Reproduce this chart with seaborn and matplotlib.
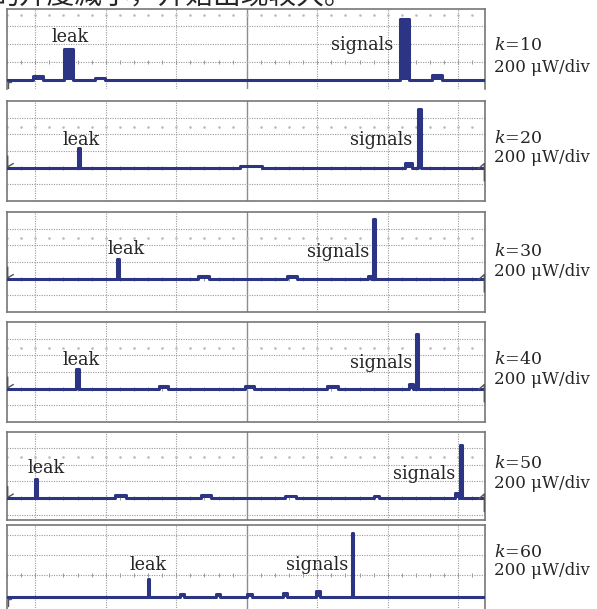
import numpy as np
import pandas as pd
import matplotlib
matplotlib.use("Agg")
import matplotlib.pyplot as plt
import seaborn as sns

sns.set_style("white")
plt.rcParams["font.family"] = ["DejaVu Serif"]
plt.rcParams["mathtext.fontset"] = "dejavuserif"

# ---------------- data (x in divisions from screen centre, heights in divisions) -------------
k_values = [10, 20, 30, 40, 50, 60]
scale_label = "200 μW/div"
caption_text = "的开度减小，开始出现较大。"

p1_centers = [-2.96, -2.53, -2.08, 2.24, 2.70]
p1_widths = [0.13, 0.13, 0.13, 0.12, 0.13]
p1_heights = [0.20, 1.70, 0.12, 3.40, 0.28]

p2_centers = [-2.38, 0.06, 2.30, 2.45]
p2_widths = [0.03, 0.30, 0.10, 0.04]
p2_heights = [1.20, 0.08, 0.30, 3.50]

p3_centers = [-1.82, -0.61, 0.64, 1.74, 1.80]
p3_widths = [0.03, 0.15, 0.15, 0.05, 0.03]
p3_heights = [1.20, 0.15, 0.15, 0.15, 3.60]

p4_centers = [-2.40, -1.18, 0.04, 1.22, 2.33, 2.41]
p4_widths = [0.03, 0.12, 0.12, 0.15, 0.05, 0.03]
p4_heights = [1.20, 0.15, 0.15, 0.15, 0.30, 3.30]

p5_centers = [-2.99, -1.79, -0.58, 0.62, 1.84, 2.98, 3.04]
p5_widths = [0.03, 0.15, 0.15, 0.15, 0.08, 0.05, 0.03]
p5_heights = [1.15, 0.20, 0.20, 0.15, 0.15, 0.30, 3.20]

p6_centers = [-1.39, -0.92, -0.41, 0.04, 0.54, 1.01, 1.50]
p6_widths = [0.02, 0.06, 0.06, 0.06, 0.06, 0.06, 0.02]
p6_heights = [0.90, 0.15, 0.15, 0.15, 0.20, 0.30, 3.20]

panels = [
    (p1_centers, p1_widths, p1_heights),
    (p2_centers, p2_widths, p2_heights),
    (p3_centers, p3_widths, p3_heights),
    (p4_centers, p4_widths, p4_heights),
    (p5_centers, p5_widths, p5_heights),
    (p6_centers, p6_widths, p6_heights),
]

# ---------------- layout (pixels) ----------------
W, H = 597, 609
X_LEFT, X_RIGHT = 7, 485
XMIN, XMAX = -3.40, 3.38
# (top px, bottom px, ymin, ymax, dotted levels, tick-row level, dot-row level)
layout = [
    (9, 89, -0.50, 3.95, [1, 2, 3], 1, 3.6),
    (101, 201, -2.0, 4.0, [-1, 1, 2, 3], 0, 2.45),
    (212, 312, -2.0, 4.0, [-1, 1, 2, 3], 0, 2.45),
    (322, 422, -2.0, 4.0, [-1, 1, 2, 3], 0, 2.45),
    (432, 520, -1.30, 3.95, [-1, 1, 2, 3], 0, 2.45),
    (525, 612, -0.75, 3.6, [1.1, 2.1, 3.1], 1.1, None),
]
# label positions: leak (cx, baseline), signals (cx, baseline), k baseline, scale baseline
labels = [
    ((70, 42), (362, 50), 50, 72),
    ((81, 145), (381, 145), 143, 162),
    ((126, 254), (338, 257), 256, 276),
    ((81, 365), (381, 368), 364, 384),
    ((46, 473), (424, 479), 468, 488),
    ((148, 570), (317, 570), 557, 575),
]

TRACE = "#2b3584"
GRID = "#9a9a9a"
FRAME = "#777777"

fig = plt.figure(figsize=(W / 100, H / 100), dpi=100)


def build_trace(centers, widths, heights):
    xs, ys = [XMIN], [0.0]
    for c, w, h in sorted(zip(centers, widths, heights)):
        a, b = c - w / 2, c + w / 2
        xs += [a, a, b, b]
        ys += [0.0, h, h, 0.0]
    xs.append(XMAX)
    ys.append(0.0)
    return pd.DataFrame({"x": xs, "y": ys})


def px(x, y):
    return x / W, 1 - y / H


for i, ((top, bot, ymin, ymax, dlev, tlev, dotlev), (c, w, h)) in enumerate(zip(layout, panels)):
    ax = fig.add_axes([X_LEFT / W, 1 - bot / H, (X_RIGHT - X_LEFT) / W, (bot - top) / H])
    ax.set_xlim(XMIN, XMAX)
    ax.set_ylim(ymin, ymax)
    ax.set_xticks([])
    ax.set_yticks([])
    for s in ax.spines.values():
        s.set_color(FRAME)
        s.set_linewidth(1.2)
    if i == 0:
        ax.spines["bottom"].set_visible(False)
    # graticule
    for xv in range(-3, 4):
        if xv == 0:
            ax.axvline(xv, color="#8c8c8c", lw=1.0, zorder=1)
        else:
            ax.axvline(xv, color=GRID, lw=0.8, ls=(0, (1, 1.2)), zorder=1)
    for yv in dlev:
        ax.axhline(yv, color=GRID, lw=0.8, ls=(0, (1, 1.2)), zorder=1)
    tx = np.arange(-17, 17) * 0.2
    ax.plot(tx, np.full(tx.shape, tlev), ls="none", marker="|", ms=3.5, mew=0.7,
            color="#999999", zorder=1)
    if dotlev is not None:
        ax.plot(tx, np.full(tx.shape, dotlev), ls="none", marker="s", ms=0.8,
                color="#bbbbbb", zorder=1)
    # trace
    df = build_trace(c, w, h)
    ax.fill_between(df["x"], 0, df["y"], color=TRACE, lw=0, zorder=3)
    sns.lineplot(data=df, x="x", y="y", estimator=None, sort=False, ax=ax,
                 color=TRACE, lw=2.2, zorder=3)
    ax.set_xlabel("")
    ax.set_ylabel("")
    # trigger / level markers at the screen edges
    if 1 <= i <= 4:
        ax.plot([XMIN + 0.01, XMIN + 0.01, XMIN + 0.09], [0.7, 0.05, 0.25],
                color="#555555", lw=1.0, clip_on=False, zorder=4)
        ax.plot([XMAX - 0.09, XMAX - 0.01, XMAX - 0.01], [-0.05, 0.25, -0.8],
                color="#555555", lw=1.0, clip_on=False, zorder=4)
    else:
        ax.plot([XMIN + 0.01, XMIN + 0.01, XMIN + 0.06], [-0.45, -0.1, -0.1],
                color="#555555", lw=1.0, clip_on=False, zorder=4)

    (lx, lb), (sx, sb), kb, scb = labels[i]
    fig.text(*px(lx, lb), "leak", ha="center", va="baseline", fontsize=12.7)
    fig.text(*px(sx, sb), "signals", ha="center", va="baseline", fontsize=12.7)
    fig.text(*px(494, kb), r"$k$=%d" % k_values[i], ha="left", va="baseline", fontsize=12.5)
    fig.text(*px(494, scb), scale_label, ha="left", va="baseline", fontsize=12.0)

fig.text(*px(-8, 4), caption_text, ha="left", va="baseline", fontsize=20,
         family=["Noto Sans CJK SC", "DejaVu Sans"])

fig.savefig("out.png", dpi=100)
